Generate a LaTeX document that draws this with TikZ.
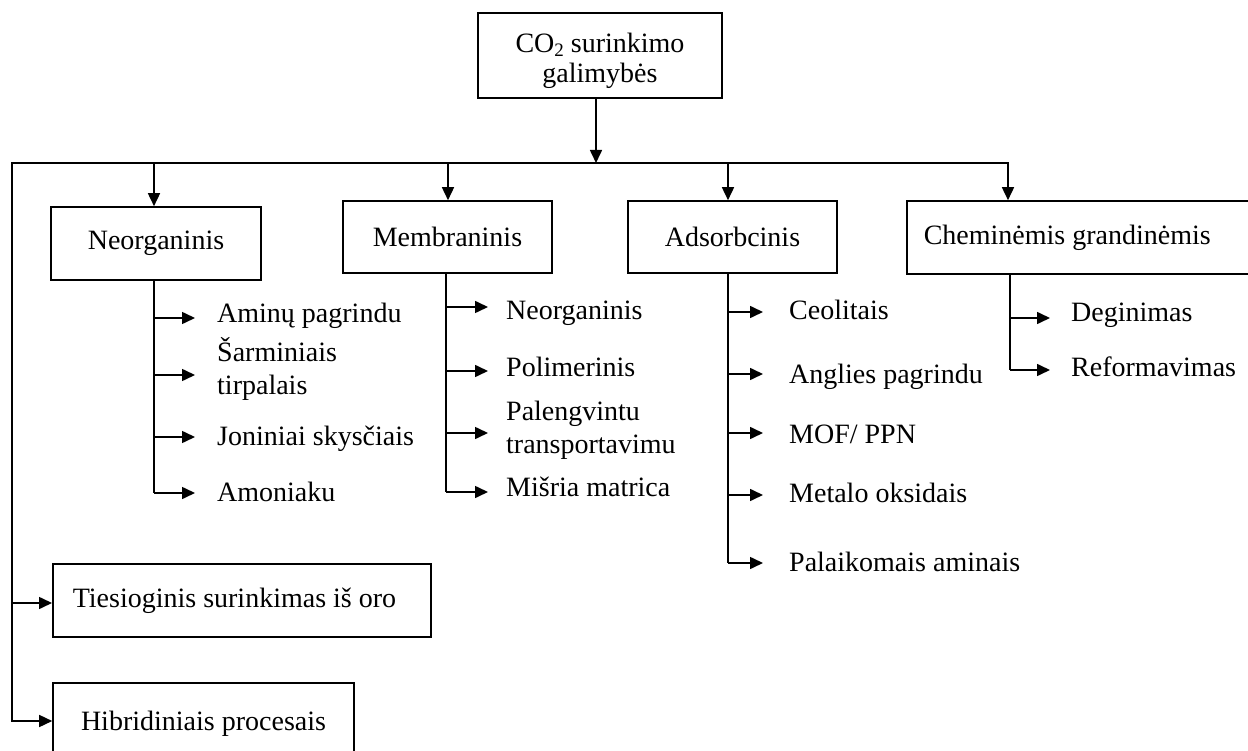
\documentclass[tikz,border=0pt]{standalone}
\usepackage{fontspec}
\setmainfont{Liberation Serif}
\usetikzlibrary{arrows.meta}
\begin{document}
\begin{tikzpicture}[x=1pt,y=-1pt,
  ln/.style={line width=1.6pt},
  arr/.style={line width=1.6pt,-{Triangle[length=13pt,width=12pt]}},
  dbl/.style={line width=1.6pt,{Triangle[length=13pt,width=12pt]}-{Triangle[length=13pt,width=12pt]}},
  box/.style={draw,line width=1.6pt,inner sep=0pt,align=center,font=\fontsize{28}{30}\selectfont},
  lbl/.style={inner sep=0pt,align=left,anchor=base west,font=\fontsize{28}{33}\selectfont}]
\useasboundingbox (0,0) rectangle (1248,751);
\fill[white] (0,0) rectangle (1248,751);
\clip (0,0) rectangle (1248,751);

% main boxes
\node[box,minimum width=244pt,minimum height=85pt,text height=61pt,text depth=6pt] (top) at (600,55.5)
  {CO\raisebox{-4pt}{\fontsize{19}{19}\selectfont 2} surinkimo\\galimybės};
\node[box,minimum width=210pt,minimum height=73pt] (neo) at (156,243.5) {Neorganinis};
\node[box,minimum width=209pt,minimum height=72pt] (mem) at (447.5,237) {Membraninis};
\node[box,minimum width=209pt,minimum height=72pt] (ads) at (732.5,237) {Adsorbcinis};
\node[box,anchor=west,minimum height=73pt,inner xsep=17pt] (che) at (906,237.5)
  {\makebox[330pt][l]{Cheminėmis grandinėmis}};
\node[box,anchor=west,minimum height=73pt,inner xsep=20pt] (tie) at (52,600.5)
  {\makebox[338pt][l]{Tiesioginis surinkimas iš oro}};
\node[box,minimum width=301pt,minimum height=82pt] (hib) at (203.5,724) {Hibridiniais procesais};

% bus
\coordinate (busL) at (12,163);
\coordinate (busR) at (1008,163);
\draw[arr] (top.south -| 596,0) -- (596,163);
\draw[dbl] (hib.west |- 0,721) -- (busL |- 0,721) -- (busL) -- (busR) -- (busR |- che.north);
\draw[arr] (busL |- 0,603) -- (tie.west |- 0,603);
\draw[arr] (154,163) -- (154,0 |- neo.north);
\draw[arr] (448,163) -- (448,0 |- mem.north);
\draw[arr] (728,163) -- (728,0 |- ads.north);

% Neorganinis children
\node[lbl] (n1) at (217,323) {Aminų pagrindu};
\node[lbl] (n2) at (217,395) {Šarminiais\\tirpalais};
\node[lbl] (n3) at (217,445) {Joniniai skysčiais};
\node[lbl] (n4) at (217,501) {Amoniaku};
\draw[ln] (154,0 |- neo.south) -- (154,493);
\draw[arr,shorten >=22pt] (154,318) -- (n1.west |- 0,318);
\draw[arr,shorten >=22pt] (154,375) -- (n2.west |- 0,375);
\draw[arr,shorten >=22pt] (154,437) -- (n3.west |- 0,437);
\draw[arr,shorten >=22pt] (154,493) -- (n4.west |- 0,493);

% Membraninis children
\node[lbl] (m1) at (506,320) {Neorganinis};
\node[lbl] (m2) at (506,377) {Polimerinis};
\node[lbl] (m3) at (506,453) {Palengvintu\\transportavimu};
\node[lbl] (m4) at (506,496) {Mišria matrica};
\draw[ln] (446,0 |- mem.south) -- (446,492);
\draw[arr,shorten >=18pt] (446,307) -- (m1.west |- 0,307);
\draw[arr,shorten >=18pt] (446,371) -- (m2.west |- 0,371);
\draw[arr,shorten >=18pt] (446,433) -- (m3.west |- 0,433);
\draw[arr,shorten >=18pt] (446,492) -- (m4.west |- 0,492);

% Adsorbcinis children
\node[lbl] (a1) at (789,320) {Ceolitais};
\node[lbl] (a2) at (789,384) {Anglies pagrindu};
\node[lbl] (a3) at (789,443) {MOF/ PPN};
\node[lbl] (a4) at (789,502) {Metalo oksidais};
\node[lbl] (a5) at (789,571) {Palaikomais aminais};
\draw[ln] (728,0 |- ads.south) -- (728,563);
\draw[arr,shorten >=26pt] (728,312) -- (a1.west |- 0,312);
\draw[arr,shorten >=26pt] (728,374) -- (a2.west |- 0,374);
\draw[arr,shorten >=26pt] (728,433) -- (a3.west |- 0,433);
\draw[arr,shorten >=26pt] (728,495) -- (a4.west |- 0,495);
\draw[arr,shorten >=26pt] (728,563) -- (a5.west |- 0,563);

% Chemin children
\node[lbl] (c1) at (1071,322) {Deginimas};
\node[lbl] (c2) at (1071,377) {Reformavimas};
\draw[ln] (1010,0 |- che.south) -- (1010,370);
\draw[arr,shorten >=21pt] (1010,318) -- (c1.west |- 0,318);
\draw[arr,shorten >=21pt] (1010,370) -- (c2.west |- 0,370);
\end{tikzpicture}
\end{document}
